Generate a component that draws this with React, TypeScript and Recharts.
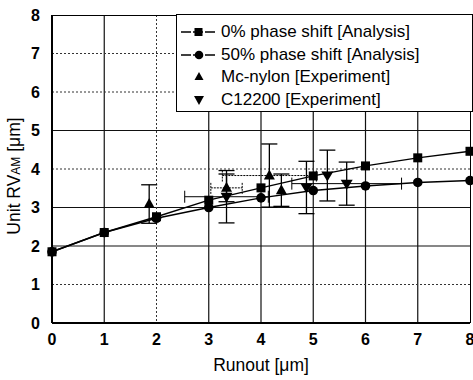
import React from 'react';
import {
  ComposedChart, Line, Scatter, XAxis, YAxis, CartesianGrid, ErrorBar,
} from 'recharts';

// analysis curves, read at integer runout values
const runout = [0, 1, 2, 3, 4, 5, 6, 7, 8];
const shift0 = [1.85, 2.35, 2.76, 3.19, 3.51, 3.82, 4.08, 4.29, 4.46];
const shift50 = [1.85, 2.35, 2.72, 3.0, 3.25, 3.44, 3.56, 3.65, 3.7];

// experiments: x, y, y error, x error
const nylonX = [1.86, 3.34, 4.16, 4.39];
const nylonY = [3.09, 3.51, 3.83, 3.45];
const nylonYErr = [0.5, 0.36, 0.82, 0.42];
const nylonXErr = [0, 0.3, 0.9, 0];

const cuX = [3.34, 4.87, 5.27, 5.64];
const cuY = [3.28, 3.52, 3.83, 3.62];
const cuYErr = [0.68, 0.68, 0.66, 0.56];
const cuXErr = [0.8, 0, 0, 1.05];

const xTicks = [0, 1, 2, 3, 4, 5, 6, 7, 8];
const yTicks = [0, 1, 2, 3, 4, 5, 6, 7, 8];

const line0 = runout.map((x, i) => ({ x, y: shift0[i] }));
const line50 = runout.map((x, i) => ({ x, y: shift50[i] }));
const nylon = nylonX.map((x, i) => ({ x, y: nylonY[i], ey: nylonYErr[i], ex: nylonXErr[i] }));
const copper = cuX.map((x, i) => ({ x, y: cuY[i], ey: cuYErr[i], ex: cuXErr[i] }));

const FONT = '"Liberation Sans", Arial, sans-serif';

const SquareDot = (p: any) => (
  <rect key={p.index} x={p.cx - 4.5} y={p.cy - 4.5} width={9} height={9} fill="#000" />
);
const CircleDot = (p: any) => <circle key={p.index} cx={p.cx} cy={p.cy} r={4.8} fill="#000" />;
const TriUp = (p: any) => (
  <polygon points={`${p.cx},${p.cy - 6} ${p.cx - 5.5},${p.cy + 4} ${p.cx + 5.5},${p.cy + 4}`} fill="#000" />
);
const TriDown = (p: any) => (
  <polygon points={`${p.cx},${p.cy + 6} ${p.cx - 6},${p.cy - 4} ${p.cx + 6},${p.cy - 4}`} fill="#000" />
);

const legendRows = [
  { label: '0% phase shift [Analysis]', icon: 'square' },
  { label: '50% phase shift [Analysis]', icon: 'circle' },
  { label: 'Mc-nylon [Experiment]', icon: 'up' },
  { label: 'C12200 [Experiment]', icon: 'down' },
];

function LegendIcon({ icon }: { icon: string }) {
  return (
    <svg width={38} height={14} style={{ display: 'block' }}>
      {(icon === 'square' || icon === 'circle') && (
        <line x1={1} y1={7} x2={37} y2={7} stroke="#000" strokeWidth={1.3} strokeDasharray="10 2" />
      )}
      {icon === 'square' && <rect x={14.5} y={3} width={8} height={8} fill="#000" />}
      {icon === 'circle' && <circle cx={19} cy={7} r={4.3} fill="#000" />}
      {icon === 'up' && <polygon points="19,2 14.5,10 23.5,10" fill="#000" />}
      {icon === 'down' && <polygon points="19,12 14,3 24,3" fill="#000" />}
    </svg>
  );
}

export default function App() {
  return (
    <div style={{ position: 'absolute', left: 0, top: 0, width: 473, height: 380, background: '#fff', fontFamily: FONT }}>
      <ComposedChart width={473} height={380} margin={{ top: 15, right: 3, bottom: 0, left: 0 }}>
        <CartesianGrid stroke="#111" strokeWidth={1.2}
          horizontalValues={[2, 3, 5]} verticalValues={[1, 3, 4, 5, 6, 7]} />
        <CartesianGrid stroke="#333" strokeWidth={1} strokeDasharray="2 2"
          horizontalValues={[1, 4, 6, 7]} verticalValues={[2]} />
        <XAxis type="number" dataKey="x" domain={[0, 8]} ticks={xTicks} interval={0}
          height={57} stroke="#000" strokeWidth={2} tickLine={false}
          tick={{ fill: '#000', fontSize: 16, fontWeight: 700, fontFamily: FONT }} tickMargin={5}
          label={{ value: 'Runout [\u03bcm]', position: 'insideBottom', offset: 9, fill: '#000', fontSize: 17.5, fontFamily: FONT }} />
        <YAxis type="number" dataKey="y" domain={[0, 8]} ticks={yTicks} interval={0}
          width={52} stroke="#000" strokeWidth={2} tickLine={false}
          tick={{ fill: '#000', fontSize: 16, fontWeight: 700, fontFamily: FONT }} tickMargin={6} />
        <Line data={line0} dataKey="y" type="linear" stroke="#000" strokeWidth={1.4}
          dot={SquareDot} isAnimationActive={false} />
        <Line data={line50} dataKey="y" type="linear" stroke="#000" strokeWidth={1.4}
          dot={CircleDot} isAnimationActive={false} />
        <Scatter data={nylon} dataKey="y" shape={TriUp} isAnimationActive={false}>
          <ErrorBar dataKey="ey" direction="y" width={8} stroke="#000" strokeWidth={1.3} />
          <ErrorBar dataKey="ex" direction="x" width={6} stroke="#000" strokeWidth={1} strokeDasharray="2 1" />
        </Scatter>
        <Scatter data={copper} dataKey="y" shape={TriDown} isAnimationActive={false}>
          <ErrorBar dataKey="ey" direction="y" width={8} stroke="#000" strokeWidth={1.3} />
          <ErrorBar dataKey="ex" direction="x" width={6} stroke="#000" strokeWidth={1} />
        </Scatter>
      </ComposedChart>

      {/* plot frame top/right */}
      <div style={{ position: 'absolute', left: 52, top: 15, width: 419, height: 308, borderTop: '1.5px solid #000', borderRight: '1.5px solid #000', pointerEvents: 'none', boxSizing: 'border-box' }} />

      {/* y axis title */}
      <div style={{ position: 'absolute', left: 14, top: 176, transform: 'translate(-50%, -50%) rotate(-90deg)', whiteSpace: 'nowrap', fontSize: 17.5, color: '#000' }}>
        Unit RV<span style={{ fontSize: 12 }}>AM</span> [{'\u03bc'}m]
      </div>

      {/* legend */}
      <div style={{ position: 'absolute', left: 176, top: 14, width: 297, height: 98, boxSizing: 'border-box', border: '1.5px solid #000', background: '#fff', padding: '6px 0 0 3px', fontSize: 17, color: '#000' }}>
        {legendRows.map((r) => (
          <div key={r.label} style={{ display: 'flex', alignItems: 'center', height: 22.5 }}>
            <LegendIcon icon={r.icon} />
            <span style={{ marginLeft: 3, whiteSpace: 'nowrap' }}>{r.label}</span>
          </div>
        ))}
      </div>
    </div>
  );
}
